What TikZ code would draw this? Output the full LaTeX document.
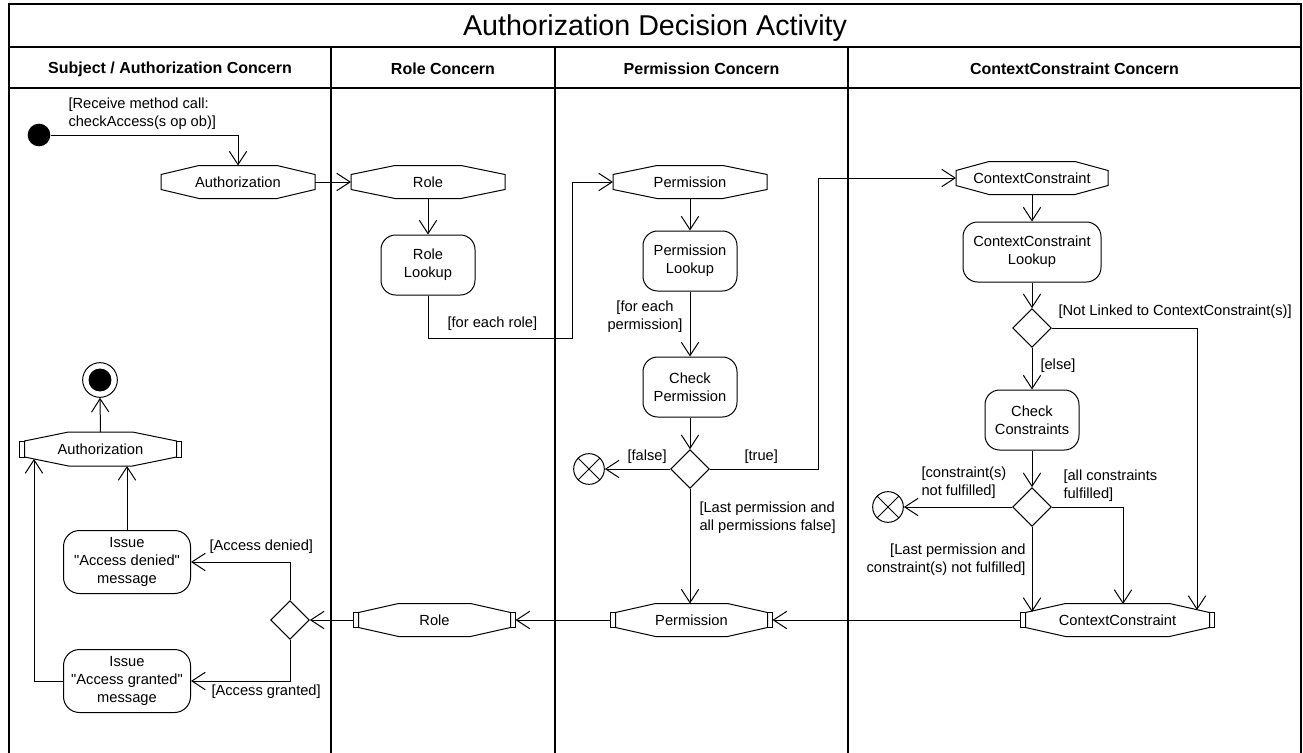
\documentclass[tikz,border=0pt]{standalone}
\usepackage{fontspec}
\setmainfont{Liberation Sans}
\newfontfamily\rawfont{Liberation Sans}
\usetikzlibrary{shapes.geometric,arrows.meta,calc}
\newcommand\octo[3]{%
 \draw ($(#1.north west)+(#2,9)$) -- ($(#1.north west)+(#2+#3,0)$) -- ($(#1.north east)+(-#2-#3,0)$) -- ($(#1.north east)+(-#2,9)$) -- ($(#1.south east)+(-#2,-9)$) -- ($(#1.south east)+(-#2-#3,0)$) -- ($(#1.south west)+(#2+#3,0)$) -- ($(#1.south west)+(#2,-9)$) -- cycle;}
\newcommand\pins[1]{%
 \draw ($(#1.north west)+(0,9)$) rectangle ($(#1.south west)+(5,-9)$);
 \draw ($(#1.north east)+(0,9)$) rectangle ($(#1.south east)+(-5,-9)$);}
\begin{document}
\begin{tikzpicture}[x=0.75pt,y=-0.75pt,line width=0.75pt,
  font=\fontsize{11}{13.5}\selectfont,
  arr/.style={-{Straight Barb[length=10pt,width=13pt]}},
  obj/.style={rectangle,inner sep=0pt,minimum height=24pt,align=center},
  action/.style={rectangle,draw,rounded corners=11pt,align=center,inner sep=0pt,minimum width=70.5pt,minimum height=45pt},
  issue/.style={action,minimum width=95.25pt,minimum height=47.25pt,rounded corners=12pt,font=\rawfont\fontsize{11}{13.5}\selectfont},
  decision/.style={diamond,draw,aspect=1,inner sep=0pt,minimum width=29pt,minimum height=29pt},
  initial/.style={circle,fill=black,inner sep=0pt,minimum size=17pt},
  final/.style={circle,draw,inner sep=0pt,minimum size=26pt,path picture={\fill (path picture bounding box.center) circle (8.6pt);}},
  flowfinal/.style={circle,draw,inner sep=0pt,minimum size=23pt,path picture={\draw (path picture bounding box.south west) -- (path picture bounding box.north east) (path picture bounding box.north west) -- (path picture bounding box.south east);}},
  lbl/.style={inner sep=0pt,align=left},
  head/.style={font=\bfseries\fontsize{12}{14}\selectfont},
  frame/.style={line width=1pt}
]
\useasboundingbox (0,0) rectangle (1303,753);
% frame and lanes
\draw[frame] (9,753) -- (9,4) -- (1301,4) -- (1301,753);
\draw[frame] (9,47) -- (1301,47);
\draw[frame] (9,88) -- (1301,88);
\draw[frame] (331,47) -- (331,753);
\draw[frame] (555,47) -- (555,753);
\draw[frame] (848,47) -- (848,753);
\node (title) at (655,28) {\fontsize{21.5}{26}\selectfont Authorization Decision Activity};
\node[head] (h1) at (170,69) {Subject / Authorization Concern};
\node[head] (h2) at (443,69) {Role Concern};
\node[head] (h3) at (701.5,69) {Permission Concern};
\node[head] (h4) at (1074.5,69) {ContextConstraint Concern};

% nodes
\node[initial] (init) at (39,135) {};
\node[obj,minimum width=114.75pt] (auth1) at (238,182) {Authorization}; \octo{auth1}{0}{38}
\node[obj,minimum width=114.75pt] (role1) at (428,182) {Role}; \octo{role1}{0}{44}
\node[action] (rlook) at (428,265) {Role\\Lookup};
\node[obj,minimum width=114.75pt] (perm1) at (690,182) {Permission}; \octo{perm1}{0}{44}
\node[action] (plook) at (690,261) {Permission\\Lookup};
\node[action] (cperm) at (690,387) {Check\\Permission};
\node[decision] (d1) at (690,469) {};
\node[flowfinal] (ff1) at (589,469) {};
\node[obj,minimum width=113.25pt] (cc1) at (1032,178) {ContextConstraint}; \octo{cc1}{0}{33}
\node[action,minimum width=103.5pt] (cclook) at (1032,252) {ContextConstraint\\Lookup};
\node[decision] (d2) at (1032,328) {};
\node[action] (cchk) at (1032,420) {Check\\Constraints};
\node[decision] (d3) at (1032,507) {};
\node[flowfinal] (ff2) at (888,507) {};
\node[obj,minimum width=144.75pt] (cc2) at (1117.5,620) {ContextConstraint}; \octo{cc2}{5}{40} \pins{cc2}
\node[obj,minimum width=120.75pt] (perm2) at (691.5,620) {Permission}; \octo{perm2}{5}{40} \pins{perm2}
\node[obj,minimum width=120.75pt] (role2) at (434.5,620) {Role}; \octo{role2}{5}{40} \pins{role2}
\node[decision] (d4) at (290,620) {};
\node[issue] (deny) at (127,562) {Issue\\"Access denied"\\message};
\node[issue] (grant) at (127,681) {Issue\\"Access granted"\\message};
\node[obj,minimum width=120.75pt,minimum height=24.75pt] (auth2) at (100.5,449) {Authorization}; \octo{auth2}{5}{44} \pins{auth2}
\node[final] (fin) at (100,380) {};

% free ends
\coordinate (c1) at (572,338);
\coordinate (c2) at (818,469);
\coordinate (c3) at (1197,610);
\coordinate (c4) at (1123,604);
\coordinate (c5) at (1032,612);
\coordinate (c6) at (34,459);

% connectors
\draw[arr] (init) -| (auth1.north);
\draw[arr] (auth1.east) -- (role1.west);
\draw[arr] (role1.south) -- (rlook.north);
\draw[arr] (rlook.south) |- (c1) |- (perm1.west);
\draw[arr] (perm1.south) -- (plook.north);
\draw[arr] (plook.south) -- (cperm.north);
\draw[arr] (cperm.south) -- (d1.north);
\draw[arr] (d1.west) -- (ff1.east);
\draw[arr] (d1.east) -- (c2) |- (cc1.west);
\draw[arr] (d1.south) -- (d1.south |- perm2.north);
\draw[arr] (cc1.south) -- (cclook.north);
\draw[arr] (cclook.south) -- (d2.north);
\draw[arr] (d2.east) -| (c3);
\draw[arr] (d2.south) -- (cchk.north);
\draw[arr] (cchk.south) -- (d3.north);
\draw[arr] (d3.west) -- (ff2.east);
\draw[arr] (d3.east) -| (c4);
\draw[arr] (d3.south) -- (c5);
\draw[arr] (cc2.west) -- (perm2.east);
\draw[arr] (perm2.west) -- (role2.east);
\draw[arr] (role2.west) -- (d4.east);
\draw[arr] (d4.north) |- (deny.east);
\draw[arr] (d4.south) |- (grant.east);
\draw[arr] (deny.north) -- (deny.north |- auth2.south);
\draw[arr] (grant.west) -| (c6);
\draw[arr] (auth2.north) -- (fin.south);

% labels
\node[lbl,anchor=west] (l1) at (68,114) {[Receive method call:\\checkAccess(s op ob)]};
\node[lbl,anchor=west] (l2) at (447,324) {[for each role]};
\node[lbl,align=center] (l3) at (645,317) {[for each\\permission]};
\node[lbl,anchor=west] (l4) at (627,457) {[false]};
\node[lbl,anchor=west] (l5) at (744,457) {[true]};
\node[lbl,anchor=west] (l6) at (699,518) {[Last permission and\\all permissions false]};
\node[lbl,anchor=west] (l7) at (1058,312) {[Not Linked to ContextConstraint(s)]};
\node[lbl,anchor=west] (l8) at (1040,366) {[else]};
\node[lbl,anchor=west] (l9) at (921,483) {[constraint(s)\\not fulfilled]};
\node[lbl,anchor=west] (l10) at (1063,486) {[all constraints\\fulfilled]};
\node[lbl,anchor=east,align=right] (l11) at (1026,560) {[Last permission and\\constraint(s) not fulfilled]};
\node[lbl,anchor=west] (l12) at (209,547) {[Access denied]};
\node[lbl,anchor=west] (l13) at (211,692) {[Access granted]};
\end{tikzpicture}
\end{document}
